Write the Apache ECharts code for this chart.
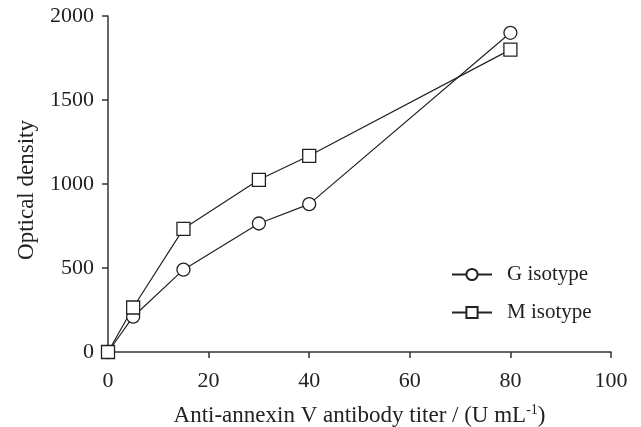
<!DOCTYPE html>
<html>
<head>
<meta charset="utf-8">
<script src="https://cdn.jsdelivr.net/npm/echarts@6/dist/echarts.min.js"></script>
<style>
  html, body { margin: 0; padding: 0; background: #fff; }
  #chart { width: 641px; height: 427px; }
</style>
</head>
<body>
<div id="chart"></div>
<script>
const titer = [0, 5, 15, 30, 40, 80];
const gIsotype = [0, 210, 490, 765, 880, 1900];
const mIsotype = [0, 265, 733, 1025, 1168, 1800];

const font = 'Liberation Serif';
const ink = '#222';

function pairs(xs, ys) {
    const out = [];
    for (let i = 0; i < xs.length; i++) {
        out.push([xs[i], ys[i]]);
    }
    return out;
}

const chart = echarts.init(document.getElementById('chart'));

const axisLine = { show: true, lineStyle: { color: '#333', width: 1.5 } };
const axisTick = { show: true, inside: false, length: 6, lineStyle: { color: '#333', width: 1.5 } };

chart.setOption({
    animation: false,
    backgroundColor: '#fff',
    grid: { left: 108, right: 30, top: 16, bottom: 75, containLabel: false, outerBoundsMode: 'none' },
    xAxis: {
        type: 'value',
        min: 0,
        max: 100,
        interval: 20,
        axisLine: axisLine,
        axisTick: axisTick,
        splitLine: { show: false },
        name: 'Anti-annexin V antibody titer / (U mL{sup|-1})',
        nameLocation: 'middle',
        nameGap: 51,
        axisLabel: { color: ink, fontFamily: font, fontSize: 22, margin: 18 },
        nameTextStyle: {
            color: ink, fontFamily: font, fontSize: 23,
            rich: { sup: { fontFamily: font, fontSize: 14, color: ink, verticalAlign: 'top', padding: [0, 0, 12, 0] } }
        }
    },
    yAxis: {
        type: 'value',
        min: 0,
        max: 2000,
        interval: 500,
        axisLine: axisLine,
        axisTick: axisTick,
        splitLine: { show: false },
        name: 'Optical density',
        nameLocation: 'middle',
        nameGap: 70,
        nameTextStyle: { color: ink, fontFamily: font, fontSize: 23, padding: [0, 12, 0, 0] },
        axisLabel: {
            color: ink, fontFamily: font, fontSize: 22, margin: 14,
            formatter: function (v) { return String(v); }
        }
    },
    legend: {
        orient: 'vertical',
        left: 446,
        top: 259,
        itemWidth: 40,
        itemHeight: 14,
        itemGap: 17,
        textStyle: { color: ink, fontFamily: font, fontSize: 21, padding: [0, 0, 0, 10] },
        data: ['G isotype', 'M isotype']
    },
    series: [
        {
            name: 'G isotype',
            type: 'line',
            data: pairs(titer, gIsotype),
            symbol: 'circle',
            symbolSize: 13,
            lineStyle: { color: '#222', width: 1.2 },
            itemStyle: { color: '#fff', borderColor: '#222', borderWidth: 1.3 }
        },
        {
            name: 'M isotype',
            type: 'line',
            data: pairs(titer, mIsotype),
            symbol: 'rect',
            symbolSize: 13,
            lineStyle: { color: '#222', width: 1.2 },
            itemStyle: { color: '#fff', borderColor: '#222', borderWidth: 1.3 }
        }
    ]
});
</script>
</body>
</html>
